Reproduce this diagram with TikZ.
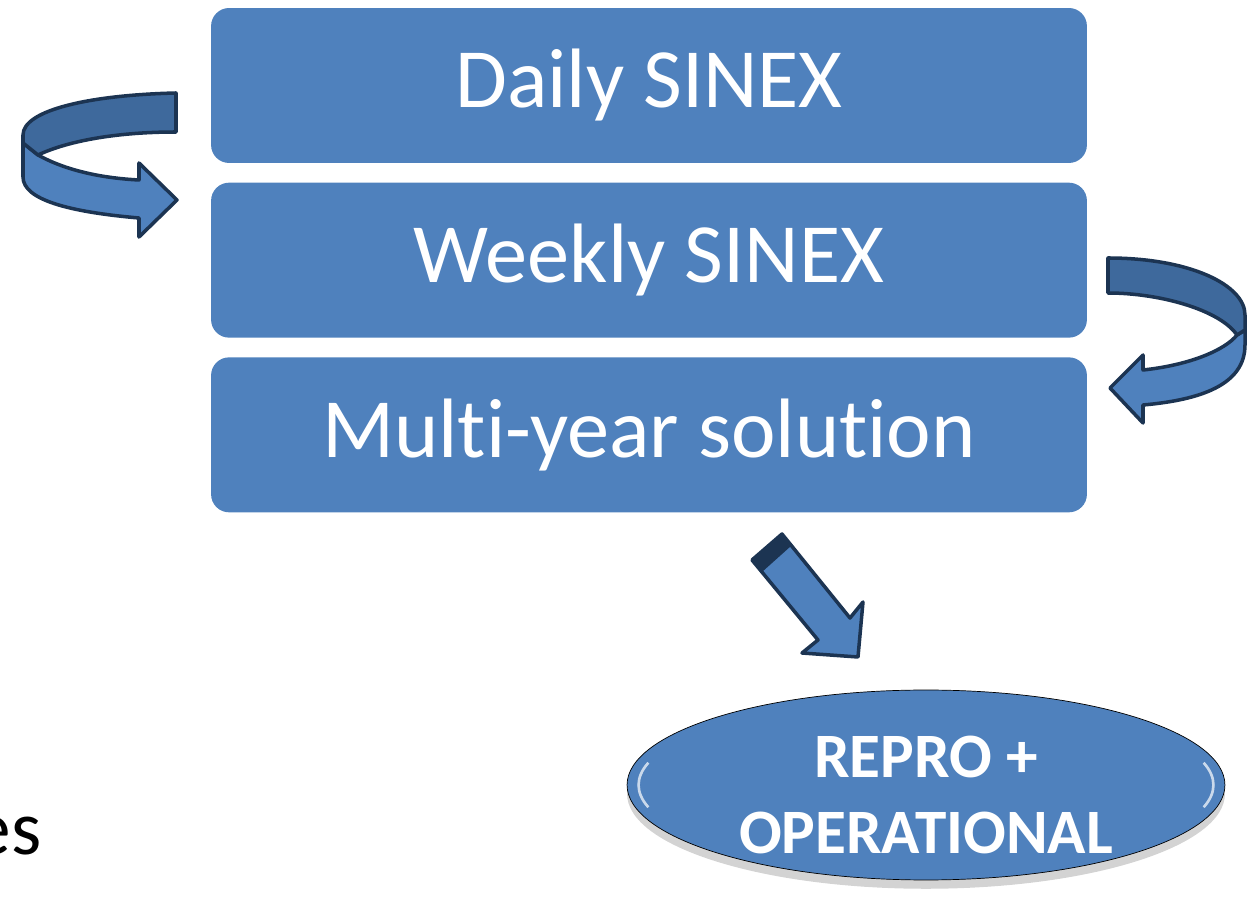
\documentclass[tikz,border=0pt]{standalone}
\usepackage{fontspec}
\setmainfont{Carlito}[Ligatures=NoCommon]
\usetikzlibrary{positioning,shapes.geometric,shadows}
\definecolor{boxblue}{RGB}{79,129,189}
\definecolor{bandblue}{RGB}{62,105,156}
\definecolor{edgenavy}{RGB}{28,52,82}
\tikzset{
  level/.style={fill=boxblue, rounded corners=0.36cm, minimum width=17.52cm, minimum height=3.1cm, text=white, font=\fontsize{48}{58}\selectfont},
  turn/.style={draw=edgenavy, line width=2pt, line join=round, fill=boxblue},
  turnback/.style={turn, fill=bandblue},
}

\begin{document}
\begin{tikzpicture}[x=0.02cm, y=-0.02cm]
  \useasboundingbox (0,0) rectangle (1249,908);
  % the three levels
  \node[level] (daily) at (649,85.5) {Daily SINEX};
  \node[level, below=0.38cm of daily] (weekly) {Weekly SINEX};
  \node[level, below=0.38cm of weekly] (multi) {Multi-year solution};
  % result
  \node[ellipse, draw=black, thin, fill=boxblue, minimum width=11.96cm, minimum height=3.8cm,
        drop shadow={shadow xshift=0pt, shadow yshift=-5pt, opacity=0.35}] (final) at (926,785) {};
  \node[align=center, text=white, font=\bfseries\fontsize{36}{43}\selectfont] (finaltext) at ([yshift=-0.2cm]final.center) {REPRO +\\OPERATIONAL};
  \draw[white, opacity=0.7, line width=1.5pt] (final.center) ++(165:5.75cm and 1.72cm) arc[start angle=165, end angle=195, x radius=5.75cm, y radius=1.72cm];
  \draw[white, opacity=0.7, line width=1.5pt] (final.center) ++(-15:5.75cm and 1.72cm) arc[start angle=-15, end angle=15, x radius=5.75cm, y radius=1.72cm];
  % daily -> weekly
  \draw[turn] (38,155) .. controls (65,170) and (100,178) .. (139,180) -- (139,163) -- (177,200) -- (139,237) -- (139,218) .. controls (70,212) and (23,200) .. (23,177) -- (23,143) -- cycle;
  \draw[turnback] (176,93) .. controls (90,95) and (23,110) .. (23,135) -- (23,143) -- (38,155) .. controls (70,140) and (120,132) .. (176,132) -- cycle;
  % weekly -> multi-year
  \draw[turn] (1237,335) -- (1245,330) -- (1245,345) .. controls (1245,385) and (1200,400) .. (1143,405) -- (1143,423) -- (1110,388) -- (1143,355) -- (1143,370) .. controls (1190,365) and (1225,350) .. (1237,335) -- cycle;
  \draw[turnback] (1108,258) .. controls (1190,258) and (1245,285) .. (1245,315) -- (1245,330) -- (1237,335) .. controls (1220,310) and (1160,293) .. (1108,293) -- cycle;
  % multi-year -> result
  \draw[turn] (752,560) -- (782,534) -- (850,618) -- (863,602) -- (858,657) -- (802,653) -- (818,640) -- cycle;
  \fill[edgenavy] (752,560) -- (782,534) -- (791,546) -- (762,572) -- cycle;
  % cut-off text
  \node[anchor=base east, inner sep=0pt, font=\fontsize{44}{52}\selectfont] (cut) at (42,855) {es};
\end{tikzpicture}
\end{document}
